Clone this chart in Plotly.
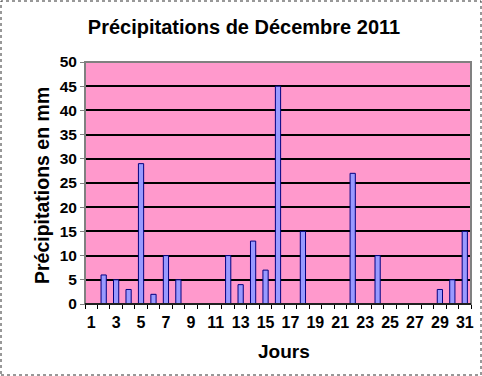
import plotly.graph_objects as go

days = list(range(1, 32))
precip = [0, 6, 5, 3, 29, 2, 10, 5, 0, 0, 0, 10, 4, 13, 7, 45, 0, 15, 0, 0,
          0, 27, 0, 10, 0, 0, 0, 0, 3, 5, 15]
x_tick_labels = [str(d) for d in range(1, 32, 2)]
y_ticks = list(range(0, 51, 5))

title_text = "Précipitations de Décembre 2011"
x_title = "Jours"
y_title = "Précipitations en mm"

FONT = "Liberation Sans, Arial, sans-serif"

fig = go.Figure()
fig.add_trace(go.Bar(
    x=days, y=precip, width=0.42,
    marker=dict(color="#9999FF", line=dict(color="#000080", width=1)),
    hoverinfo="x+y",
))

W, H = 482, 376
L, R, T, B = 85, 11, 62, 72
pw, ph = W - L - R, H - T - B

fig.update_layout(
    width=W, height=H,
    margin=dict(l=L, r=R, t=T, b=B, autoexpand=False),
    paper_bgcolor="white",
    plot_bgcolor="#FF99CC",
    showlegend=False,
    font=dict(family=FONT, color="black"),
    title=dict(text="<b>" + title_text + "</b>", x=(244 - L) / pw, xref="paper", xanchor="center",
               y=1 - 27 / H, yanchor="middle", font=dict(size=20, family=FONT)),
    bargap=0.6,
)

fig.update_xaxes(
    range=[0.5, 31.5],
    tickmode="array", tickvals=list(range(1, 32, 2)), ticktext=x_tick_labels,
    ticks="", tickfont=dict(size=16, family=FONT, weight="bold"),
    ticklabelstandoff=4,
    showgrid=False, zeroline=False,
    showline=True, linecolor="black", linewidth=1,
    minor=dict(tickvals=[d + 0.5 for d in range(0, 32)], ticks="outside", ticklen=4,
               tickcolor="black", tickwidth=1, showgrid=False),
    fixedrange=True,
)
fig.update_yaxes(
    range=[0, 50], tickmode="array", tickvals=y_ticks,
    ticks="outside", ticklen=4, tickcolor="#808080", tickwidth=1,
    tickfont=dict(size=15.5, family=FONT, weight="bold"),
    showgrid=True, gridcolor="black", gridwidth=2,
    zeroline=False, showline=False,
    fixedrange=True,
)

# plot area border (grey)
fig.add_shape(type="rect", xref="paper", yref="paper", x0=0, x1=1, y0=0, y1=1,
              line=dict(color="#808080", width=2), layer="above")
# bottom axis line in black
fig.add_shape(type="line", xref="paper", yref="paper", x0=0, x1=1, y0=0, y1=0,
              line=dict(color="black", width=1.5), layer="above")
# outer dotted frame of the chart
fig.add_shape(type="rect", xref="paper", yref="paper",
              x0=(1 - L) / pw, x1=(481 - L) / pw,
              y0=(H - B - 375) / ph, y1=(H - B - 1) / ph,
              line=dict(color="#333333", width=1, dash="dot"))

# axis titles as annotations for precise placement
fig.add_annotation(text="<b>" + x_title + "</b>", xref="paper", yref="paper",
                   x=(284 - L) / pw, y=(H - B - 351) / ph, showarrow=False,
                   font=dict(size=19, family=FONT), xanchor="center", yanchor="middle")
fig.add_annotation(text="<b>" + y_title + "</b>", xref="paper", yref="paper",
                   x=(42 - L) / pw, y=(H - B - 186) / ph, showarrow=False, textangle=-90,
                   font=dict(size=19.5, family=FONT), xanchor="center", yanchor="middle")

fig.write_html("out.html", config={"displayModeBar": False},
               post_script="document.body.style.margin='0';document.body.style.padding='0';")
